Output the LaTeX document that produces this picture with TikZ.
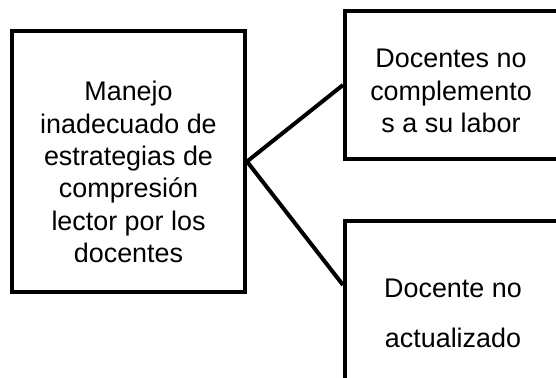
\documentclass[tikz,border=0pt]{standalone}
\usepackage{fontspec}
\setmainfont{Liberation Sans}
\usetikzlibrary{calc}
\begin{document}
\begin{tikzpicture}[x=1bp,y=-1bp,
    caja/.style={draw,line width=4bp,inner sep=0pt},
    texto/.style={align=center,inner sep=0pt,font=\fontsize{27}{32.5}\selectfont},
    linea/.style={line width=4bp}]
        \useasboundingbox (0,0) rectangle (556,377);
        \clip (0,0) rectangle (556,377);

        \node[caja, minimum width=233bp, minimum height=261bp] (causa) at (128.5,161.5) {};
        \node[caja, minimum width=240bp, minimum height=148bp] (doc1) at (465,85) {};
        \node[caja, minimum width=240bp, minimum height=200bp] (doc2) at (465,321) {};

        \node[texto] (tcausa) at (128.5,172) {Manejo\\ inadecuado de\\ estrategias de\\ compresión\\ lector por los\\ docentes};
        \node[texto] (tdoc1) at (451,91) {Docentes no\\ complemento\\ s a su labor};
        \node[texto, font=\fontsize{27}{50}\selectfont] (tdoc2) at (453,313) {Docente no\\ actualizado};

        \coordinate (entrada) at ($(doc2.north west)+(0,66)$);
        \draw[linea] (causa.east) -- (doc1.west);
        \draw[linea] (causa.east) -- (entrada);
  \end{tikzpicture}
\end{document}
